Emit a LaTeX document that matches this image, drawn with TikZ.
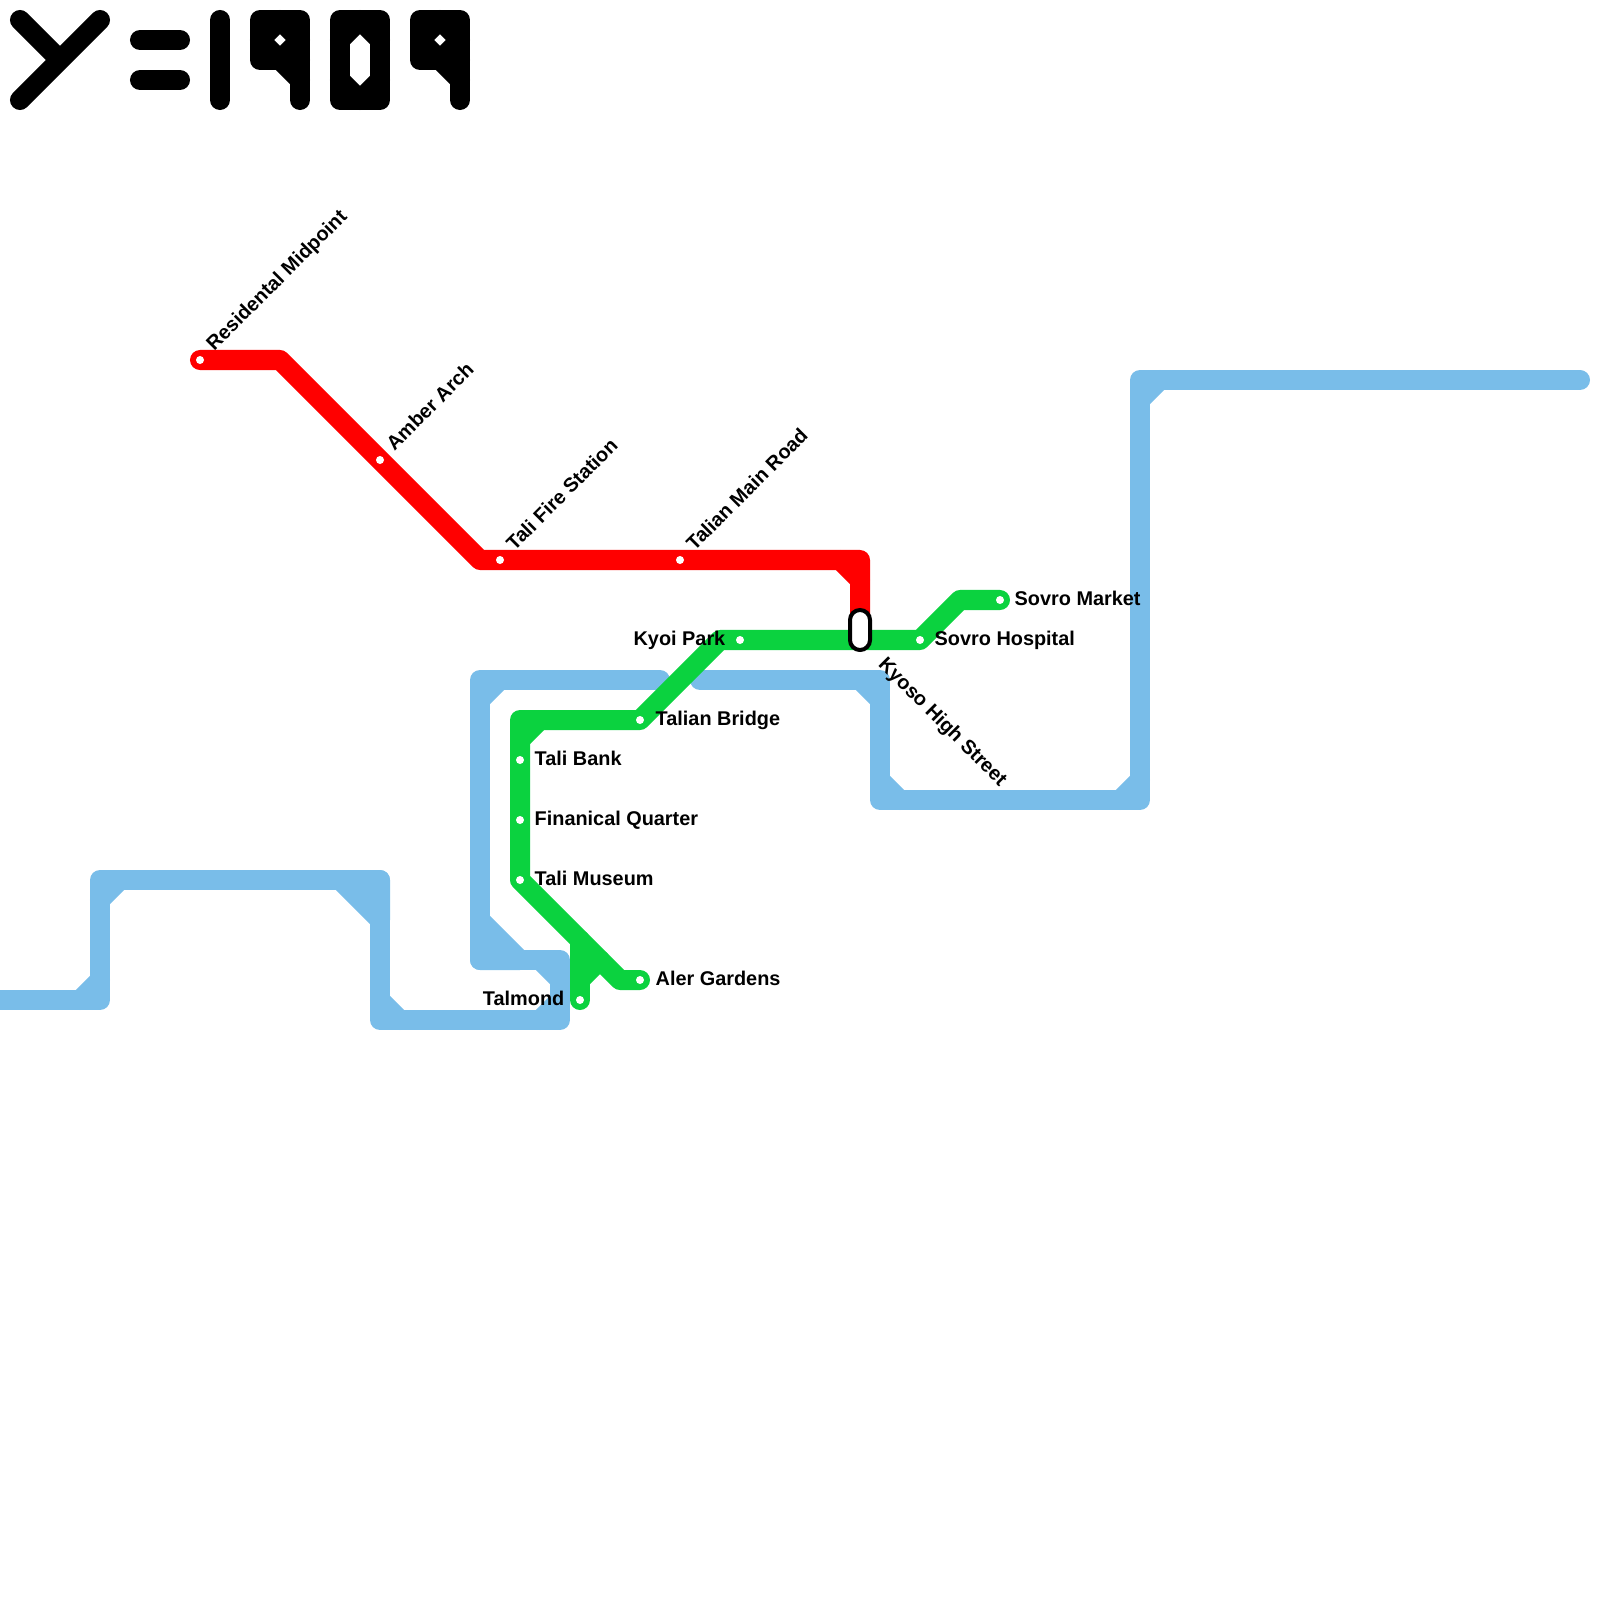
\documentclass[tikz,border=0pt]{standalone}
\usepackage{fontspec}
\setmainfont{Liberation Sans}
\usetikzlibrary{backgrounds}
\definecolor{lineRed}{HTML}{FF0000}
\definecolor{lineGreen}{HTML}{0BD23F}
\definecolor{lineBlue}{HTML}{79BDE9}
\tikzset{
    metro/.style={line width=0.2cm, line cap=round, line join=round},
    stn/.style={circle, fill=white, inner sep=0pt, minimum size=0.08cm},
    lbl/.style={inner sep=0pt, anchor=base west, font=\bfseries\fontsize{5.65pt}{6.8pt}\selectfont},
    lblL/.style={lbl, anchor=base east},
    change/.style={draw=black, fill=white, line width=0.04cm, rounded corners=0.1cm, inner sep=0pt, minimum width=0.2cm, minimum height=0.4cm}
}
\begin{document}
\begin{tikzpicture}[x=0.01cm, y=-0.01cm]
    \useasboundingbox (0,0) rectangle (1600,1600);

    % year
    \draw[metro] (20,100) -- (100,20) (20,20) -- (60,60);
    \draw[metro] (140,40) -- (180,40) (140,80) -- (180,80);
    \draw[metro] (220,20) -- (220,100);
    \draw[metro] (340,20) -- (380,20) -- (380,100) -- (340,100) -- cycle;
    \draw[metro] (340,40) -- (360,20) -- (380,40) (380,80) -- (360,100) -- (340,80);
    \draw[metro] (300,100) -- (300,20) -- (260,20) -- (260,60) -- (300,60);
    \draw[metro] (280,20) -- (300,40) -- (280,60) -- (260,40) -- cycle (280,60) -- (300,80);
    \draw[metro] (460,100) -- (460,20) -- (420,20) -- (420,60) -- (460,60);
    \draw[metro] (440,20) -- (460,40) -- (440,60) -- (420,40) -- cycle (440,60) -- (460,80);

    % stations
    \node[stn] (residential) at (200,360) {};
    \node[stn] (amberArch) at (380,460) {};
    \node[stn] (fireStation) at (500,560) {};
    \node[stn] (mainRoad) at (680,560) {};
    \node[change] (kyoso) at (860,630) {};
    \node[stn] (sovroMarket) at (1000,600) {};
    \node[stn] (sovroHospital) at (920,640) {};
    \node[stn] (kyoiPark) at (740,640) {};
    \node[stn] (talianBridge) at (640,720) {};
    \node[stn] (taliBank) at (520,760) {};
    \node[stn] (finQuarter) at (520,820) {};
    \node[stn] (taliMuseum) at (520,880) {};
    \node[stn] (alerGardens) at (640,980) {};
    \node[stn] (talmond) at (580,1000) {};
    \coordinate (blueWest) at (-20,1000);
    \coordinate (blueMid) at (660,680);
    \coordinate (blueMidB) at (700,680);
    \coordinate (blueEast) at (1580,380);

    % labels
    \node[lbl, rotate=45] (residentialText) at (214,352) {Residental Midpoint};
    \node[lbl, rotate=45] (amberArchText) at (394,452) {Amber Arch};
    \node[lbl, rotate=45] (fireStationText) at (514,552) {Tali Fire Station};
    \node[lbl, rotate=45] (mainRoadText) at (694,552) {Talian Main Road};
    \node[lbl, rotate=-45] (kyosoText) at (877,665) {Kyoso High Street};
    \node[lbl] (sovroMarketText) at (1014,605) {Sovro Market};
    \node[lbl] (sovroHospitalText) at (934,645) {Sovro Hospital};
    \node[lblL] (kyoiParkText) at (726,645) {Kyoi Park};
    \node[lbl] (talianBridgeText) at (655,725) {Talian Bridge};
    \node[lbl] (taliBankText) at (534,765) {Tali Bank};
    \node[lbl] (finQuarterText) at (534,825) {Finanical Quarter};
    \node[lbl] (taliMuseumText) at (534,885) {Tali Museum};
    \node[lbl] (alerGardensText) at (655,985) {Aler Gardens};
    \node[lblL] (talmondText) at (565,1005) {Talmond};

    \begin{scope}[on background layer]
        % blue line
        \draw[metro, lineBlue] (blueWest) -- (100,1000) -- (100,880) -- (380,880) -- (380,1020) -- (560,1020)
            -- (560,960) -- (480,960) -- (480,680) -- (blueMid);
        \draw[metro, lineBlue] (80,1000) -- (100,980) (100,900) -- (120,880)
            (380,1000) -- (400,1020) (540,1020) -- (560,1000) (540,960) -- (560,980)
            (480,700) -- (500,680);
        \draw[metro, lineBlue, fill=lineBlue] (340,880) -- (380,880) -- (380,920) -- cycle;
        \draw[metro, lineBlue, fill=lineBlue] (480,920) -- (520,960) -- (480,960) -- cycle;
        \draw[metro, lineBlue] (blueMidB) -- (880,680) -- (880,800) -- (1140,800) -- (1140,380) -- (blueEast);
        \draw[metro, lineBlue] (860,680) -- (880,700) (880,780) -- (900,800) (1120,800) -- (1140,780)
            (1140,400) -- (1160,380);
        % green line
        \draw[metro, lineGreen] (talmond.center) -- (580,940);
        \draw[metro, lineGreen] (580,980) -- (600,960);
        \draw[metro, lineGreen] (alerGardens.center) -- (620,980) -- (taliMuseum.center) -- (finQuarter.center)
            -- (taliBank.center) -- (520,720) -- (talianBridge.center) -- (720,640) -- (kyoiPark.center)
            -- (sovroHospital.center) -- (960,600) -- (sovroMarket.center);
        \draw[metro, lineGreen] (520,740) -- (540,720);
        % red line
        \draw[metro, lineRed] (residential.center) -- (280,360) -- (amberArch.center) -- (480,560)
            -- (fireStation.center) -- (mainRoad.center) -- (860,560) -- (kyoso.center);
        \draw[metro, lineRed] (840,560) -- (860,580);
    \end{scope}
\end{tikzpicture}
\end{document}
